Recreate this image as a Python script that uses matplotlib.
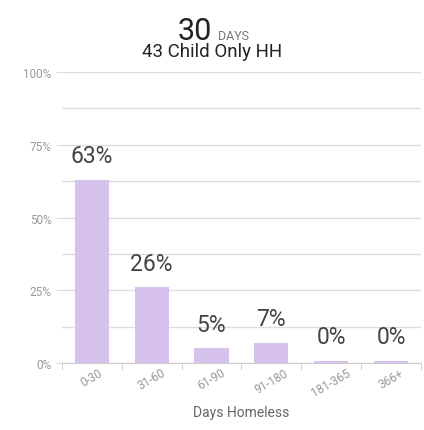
import numpy as np
import matplotlib.pyplot as plt

plt.rcParams['font.family'] = ['Roboto', 'DejaVu Sans']

# Data
categories = ['0-30', '31-60', '61-90', '91-180', '181-365', '366+']
percents = [63, 26, 5, 7, 0, 0]
bar_color = '#d7c2ee'

fig = plt.figure(figsize=(4.24, 4.31), dpi=100)
ax = fig.add_axes([0.146, 0.1555, 0.847, 0.675])

x = np.arange(len(categories))
# zero bars still drawn as a thin sliver like the original
shown = [max(p, 0.8) for p in percents]
ax.bar(x, shown, width=0.57, color=bar_color, zorder=3)

for xi, h, p in zip(x, shown, percents):
    ax.annotate(f'{p}%', (xi, h), xytext=(0, 9), textcoords='offset points',
                ha='center', va='bottom', fontsize=16.5, color='#444444', zorder=4)

ax.set_xlim(-0.5, len(categories) - 0.5)
ax.set_ylim(0, 100)

# y grid
ax.set_yticks([0, 25, 50, 75, 100])
ax.set_yticklabels(['0%', '25%', '50%', '75%', '100%'])
ax.set_yticks([12.5, 37.5, 62.5, 87.5], minor=True)
ax.grid(axis='y', which='both', color='#dddddd', linewidth=1, zorder=0)
ax.tick_params(axis='y', which='major', length=4.5, color='#dddddd',
               labelsize=8.5, labelcolor='#999999', pad=3)
ax.tick_params(axis='y', which='minor', length=0)
for lbl in ax.get_yticklabels():
    lbl.set_verticalalignment('center_baseline')

# x axis
ax.set_xticks(x)
ax.set_xticklabels(categories, rotation=30, ha='center')
ax.tick_params(axis='x', which='major', length=0, labelsize=8.5,
               labelcolor='#999999', pad=2)
ax.set_xticks(np.arange(-0.5, len(categories)), minor=True)
ax.tick_params(axis='x', which='minor', length=5, color='#cccccc', direction='out')

for side in ['top', 'right', 'left']:
    ax.spines[side].set_visible(False)
ax.spines['bottom'].set_color('#cccccc')
ax.spines['bottom'].set_zorder(5)

ax.set_xlabel('Days Homeless', fontsize=10, color='#666666', labelpad=5)

# title
fig.text(0.5, 0.907, '30', fontsize=22, color='#222222', ha='right', va='baseline')
fig.text(0.513, 0.907, 'DAYS', fontsize=9, color='#777777', ha='left', va='baseline')
fig.text(0.5, 0.867, '43 Child Only HH', fontsize=13.5, color='#222222',
         ha='center', va='baseline')

plt.savefig('out.png', dpi=100)
